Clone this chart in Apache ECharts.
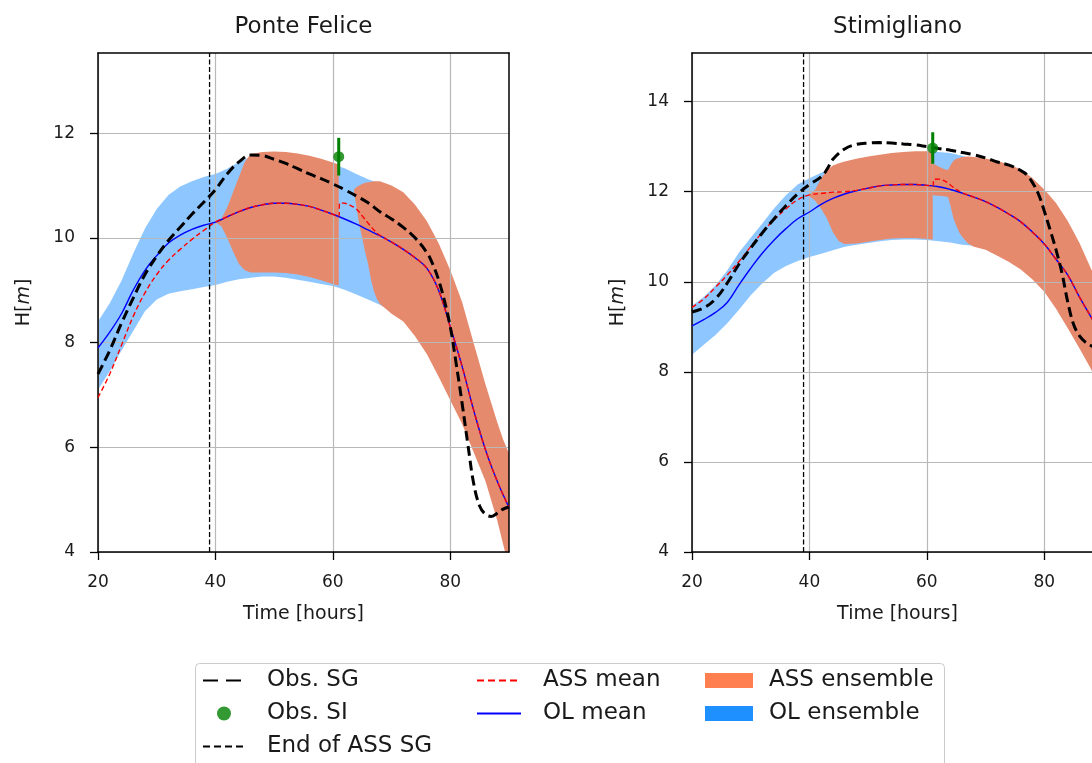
<!DOCTYPE html>
<html>
<head>
<meta charset="utf-8">
<title>Water level – Ponte Felice and Stimigliano</title>
<script src="https://cdn.jsdelivr.net/npm/echarts@6/dist/echarts.min.js"></script>
<style>
  html, body { margin: 0; padding: 0; background: #ffffff; }
  #chart { width: 1092px; height: 763px; }
</style>
</head>
<body>
<div id="chart"></div>
<script>
// ---------------- Ponte Felice ----------------
const pfTime = [20,22,24,26,28,30,32,34,36,38,40,42,44,46,48,50,52,54,56,58,60,62,64,66,68,70,72,74,76,78,80,82,84,86,88,90];
const pfOlMean = [7.9,8.2,8.55,9.0,9.38,9.66,9.9,10.05,10.16,10.24,10.3,10.4,10.5,10.58,10.63,10.66,10.66,10.64,10.6,10.53,10.45,10.36,10.26,10.15,10.04,9.92,9.78,9.62,9.42,9.0,8.3,7.55,6.7,5.95,5.35,4.85];
const pfOlHigh = [8.4,8.75,9.18,9.7,10.18,10.55,10.82,10.98,11.08,11.16,11.22,11.32,11.45,11.55,11.58,11.58,11.55,11.52,11.48,11.44,11.4,11.33,11.22,11.12,11.04,10.96,10.8,10.58,10.25,9.82,9.25,8.65,7.85,7.05,6.35,5.75];
const pfOlLow = [7.1,7.45,7.85,8.22,8.6,8.82,8.93,8.98,9.02,9.06,9.1,9.16,9.21,9.24,9.26,9.26,9.24,9.2,9.16,9.12,9.08,9.01,8.92,8.82,8.72,8.6,8.45,8.2,7.9,7.5,7.05,6.55,6.05,5.5,4.85,4.3];

const pfObsTime = [20,22,24,26,28,30,32,34,36,38,40,42,44,46,48,50,52,54,56,58,60,62,64,66,68,70,72,74,76,77,78,79,80,81,82,83,84,85,86,87,88,89,90];
const pfObsSG = [7.4,7.85,8.37,8.85,9.3,9.65,9.95,10.2,10.45,10.68,10.92,11.22,11.45,11.58,11.57,11.5,11.42,11.32,11.22,11.13,11.03,10.92,10.8,10.67,10.5,10.36,10.2,10.0,9.72,9.5,9.2,8.8,8.3,7.6,6.85,6.05,5.3,4.88,4.72,4.68,4.74,4.82,4.86];

const pfAssTime = [20,22,24,26,28,30,32,34,36,38,40,42,44,46,48,50,52,54,56,58,60,61,61.2,62,63,64,65,66,67,68,70,72,74,76,78,80,82,84,86,88,90];
const pfAssMean = [6.95,7.4,7.95,8.5,8.95,9.3,9.57,9.78,9.97,10.14,10.3,10.4,10.5,10.58,10.63,10.66,10.66,10.64,10.6,10.53,10.45,10.41,10.67,10.66,10.62,10.55,10.42,10.28,10.15,10.05,9.92,9.78,9.62,9.42,9.0,8.3,7.55,6.7,5.95,5.35,4.85];

const pfAss1Time = [40,41,42,43,44,45,46,48,50,52,54,56,58,60,61];
const pfAss1High = [10.3,10.36,10.58,10.87,11.16,11.45,11.6,11.64,11.65,11.64,11.61,11.57,11.51,11.44,11.4];
const pfAss1Low = [10.3,10.22,10.0,9.74,9.5,9.38,9.34,9.34,9.34,9.33,9.3,9.25,9.19,9.12,9.09];

const pfAss2Time = [63.6,64,64.5,65,65.5,66,66.5,67,67.5,68,70,72,74,76,78,80,82,84,86,88,89,90];
const pfAss2High = [10.92,10.97,11.0,11.03,11.05,11.06,11.07,11.08,11.08,11.08,11.0,10.87,10.63,10.32,9.9,9.38,8.78,7.98,7.2,6.48,6.15,5.88];
const pfAss2Low = [10.88,10.6,10.25,10.0,9.73,9.5,9.2,8.98,8.83,8.74,8.55,8.4,8.12,7.78,7.35,6.9,6.45,5.9,5.35,4.6,4.15,3.7];

const pfSiTime = [61];
const pfSiLevel = [11.55];
const pfSiErr = [0.36];

// ---------------- Stimigliano ----------------
const stTime = [20,22,24,26,28,30,32,34,36,38,40,42,44,46,48,50,52,54,56,58,60,62,64,66,68,70,72,74,76,78,80,82,84,86,88,90];
const stOlMean = [9.02,9.16,9.32,9.54,9.93,10.3,10.64,10.93,11.18,11.4,11.55,11.72,11.85,11.95,12.02,12.08,12.13,12.15,12.16,12.16,12.14,12.11,12.05,11.97,11.88,11.78,11.65,11.5,11.33,11.1,10.84,10.5,10.15,9.66,9.21,8.75];
const stOlHigh = [9.47,9.66,9.92,10.25,10.65,10.98,11.3,11.63,11.92,12.16,12.3,12.42,12.52,12.6,12.66,12.72,12.77,12.8,12.83,12.86,12.88,12.88,12.86,12.8,12.72,12.64,12.54,12.42,12.25,12.0,11.6,11.2,10.8,10.3,9.8,9.3];
const stOlLow = [8.38,8.6,8.82,9.08,9.38,9.7,9.97,10.2,10.35,10.46,10.55,10.62,10.7,10.78,10.82,10.86,10.9,10.93,10.94,10.94,10.93,10.9,10.87,10.82,10.8,10.74,10.62,10.48,10.32,10.12,9.88,9.5,9.08,8.62,8.15,7.7];

const stObsTime = [20,22,24,26,28,30,32,34,36,38,40,42,43,44,46,48,50,52,54,56,58,60,62,64,66,68,70,72,74,76,77,78,79,80,81,82,83,84,85,86,87,88,89,90];
const stObsSG = [9.33,9.42,9.62,9.97,10.39,10.75,11.09,11.4,11.69,11.95,12.16,12.33,12.5,12.72,12.95,13.05,13.08,13.09,13.08,13.06,13.04,13.0,12.96,12.92,12.87,12.82,12.75,12.66,12.59,12.47,12.38,12.2,11.95,11.57,11.15,10.71,10.2,9.55,9.05,8.8,8.66,8.58,8.52,8.5];

const stAssTime = [20,22,24,26,28,30,32,34,36,38,40,42,44,46,48,50,52,54,56,58,60,61,61.2,62,63,64,65,66,68,70,72,74,76,78,80,82,84,86,88,90];
const stAssMean = [9.43,9.62,9.88,10.15,10.45,10.78,11.1,11.38,11.62,11.82,11.93,11.96,11.99,12.0,12.03,12.08,12.13,12.15,12.16,12.16,12.14,12.13,12.27,12.28,12.24,12.15,12.05,11.98,11.88,11.78,11.65,11.5,11.33,11.1,10.84,10.5,10.15,9.66,9.21,8.75];

const stAss1Time = [40,41,42,43,44,45,46,48,50,52,54,56,58,60,61];
const stAss1High = [11.93,12.05,12.3,12.48,12.58,12.63,12.67,12.73,12.78,12.82,12.86,12.88,12.9,12.9,12.89];
const stAss1Low = [11.9,11.8,11.62,11.4,11.1,10.9,10.84,10.85,10.89,10.93,10.96,10.97,10.97,10.95,10.94];

const stAss2Time = [61,62,63,63.6,64,64.5,65,65.5,66,67,68,70,72,74,76,78,80,82,84,86,88,90];
const stAss2High = [12.63,12.56,12.5,12.48,12.58,12.68,12.73,12.75,12.77,12.78,12.77,12.74,12.69,12.6,12.5,12.3,12.05,11.75,11.35,10.86,10.28,9.7];
const stAss2Low = [11.92,11.91,11.9,11.88,11.7,11.42,11.25,11.1,11.0,10.85,10.78,10.71,10.58,10.44,10.27,10.05,9.78,9.4,8.97,8.52,8.05,7.55];

const stSiTime = [61];
const stSiLevel = [12.97];
const stSiErr = [0.35];

// ---------------- shared axis settings ----------------
const stationNames = ['Ponte Felice', 'Stimigliano'];
const endOfAssTime = [39, 39];
const timeRange = [20, 90];
const timeTicks = [20, 40, 60, 80];
const levelRange = [[4, 13.53], [4, 15.08]];
const levelTicks = [[4, 6, 8, 10, 12], [4, 6, 8, 10, 12, 14]];

const FONT = '"DejaVu Sans", "Liberation Sans", sans-serif';
const INK = '#1a1a1a';
const COL = {
  obs: '#000000', si: '#008000', ass: '#ff0000', ol: '#0000ff',
  assFill: '#e68a6e', olFill: 'rgba(30,144,255,0.5)',
  assKey: '#ff7f50', olKey: '#1e90ff', grid: '#b8b8b8'
};

function pairs(t, v) { return t.map((x, i) => [x, v[i]]); }

// filled band between two boundary curves, clipped to the plot area
function band(name, g, t, lo, hi, fill, key) {
  return {
    type: 'custom', name, xAxisIndex: g, yAxisIndex: g, z: 0, silent: true,
    itemStyle: { color: key },
    data: [[t[0], hi[0]]],
    renderItem(params, api) {
      const pts = [];
      for (let i = 0; i < t.length; i++) pts.push(api.coord([t[i], hi[i]]));
      for (let i = t.length - 1; i >= 0; i--) pts.push(api.coord([t[i], lo[i]]));
      const cs = params.coordSys;
      return {
        type: 'polygon', shape: { points: pts },
        style: { fill: fill, stroke: null },
        clipPath: { type: 'rect', shape: { x: cs.x, y: cs.y, width: cs.width, height: cs.height } }
      };
    }
  };
}

function curve(name, g, t, v, color, width, type, z, smooth) {
  return {
    type: 'line', name, xAxisIndex: g, yAxisIndex: g, data: pairs(t, v),
    symbol: 'none', showSymbol: false, smooth: smooth,
    z, silent: true, lineStyle: { color, width, type }, itemStyle: { color },
    emphasis: { disabled: true }
  };
}

function errorBars(g, t, v, e) {
  return {
    type: 'custom', name: 'Obs. SI', xAxisIndex: g, yAxisIndex: g, z: 5, silent: true,
    itemStyle: { color: COL.si },
    data: t.map((x, i) => [x, v[i], e[i]]),
    encode: { x: 0, y: 1 },
    renderItem(params, api) {
      const a = api.coord([api.value(0), api.value(1) + api.value(2)]);
      const b = api.coord([api.value(0), api.value(1) - api.value(2)]);
      return { type: 'line', shape: { x1: a[0], y1: a[1], x2: b[0], y2: b[1] }, style: { stroke: COL.si, lineWidth: 3 } };
    }
  };
}

function stationSeries(g, d) {
  return [
    band('OL ensemble', g, d.time, d.olLow, d.olHigh, COL.olFill, COL.olKey),
    band('ASS ensemble', g, d.ass1Time, d.ass1Low, d.ass1High, COL.assFill, COL.assKey),
    band('ASS ensemble', g, d.ass2Time, d.ass2Low, d.ass2High, COL.assFill, COL.assKey),
    curve('OL mean', g, d.time, d.olMean, COL.ol, 1.4, 'solid', 2, 0.4),
    curve('ASS mean', g, d.assTime, d.assMean, COL.ass, 1.4, [5, 3], 3, 0.4),
    curve('End of ASS SG', g, endOfAssTime, levelRange[g], COL.obs, 1.3, [5, 2.5], 3, false),
    curve('Obs. SG', g, d.obsTime, d.obsSG, COL.obs, 3, [10, 5], 4, 0.4),
    {
      type: 'scatter', name: 'Obs. SI', xAxisIndex: g, yAxisIndex: g, z: 6, silent: true,
      data: pairs(d.siTime, d.siLevel), symbol: 'circle', symbolSize: 11,
      itemStyle: { color: COL.si }
    },
    errorBars(g, d.siTime, d.siLevel, d.siErr)
  ];
}

const axisLine = { show: true, onZero: false, lineStyle: { color: '#000', width: 1.5 } };
const tickStyle = { color: '#000', width: 1.3 };
const labelStyle = { color: INK, fontFamily: FONT, fontSize: 17 };

function xAxes(g) {
  return [{
    gridIndex: g, type: 'value', position: 'bottom', min: timeRange[0], max: timeRange[1], interval: 20, z: 1,
    axisLine, axisTick: { show: true, inside: false, length: 8, lineStyle: tickStyle, customValues: timeTicks },
    axisLabel: Object.assign({ margin: 22, customValues: timeTicks }, labelStyle),
    splitLine: { show: true, lineStyle: { color: COL.grid, width: 1.2 } },
    name: 'Time [hours]', nameLocation: 'middle', nameGap: 53,
    nameTextStyle: { color: INK, fontFamily: FONT, fontSize: 19 }
  }, {
    gridIndex: g, type: 'value', position: 'top', min: timeRange[0], max: timeRange[1], z: 1,
    axisLine, axisTick: { show: false }, axisLabel: { show: false }, splitLine: { show: false }
  }];
}

function yAxes(g) {
  return [{
    gridIndex: g, type: 'value', position: 'left', min: levelRange[g][0], max: levelRange[g][1], interval: 2, z: 1,
    axisLine, axisTick: { show: true, inside: false, length: 8, lineStyle: tickStyle, customValues: levelTicks[g] },
    axisLabel: Object.assign({ margin: 23, customValues: levelTicks[g] }, labelStyle),
    splitLine: { show: true, lineStyle: { color: COL.grid, width: 1.2 } },
    name: '{a|H[}{b|m}{a|]}', nameLocation: 'middle', nameRotate: 90, nameGap: 64,
    nameTextStyle: {
      rich: {
        a: { color: INK, fontFamily: FONT, fontSize: 19 },
        b: { color: INK, fontFamily: FONT, fontSize: 19, fontStyle: 'italic' }
      }
    }
  }, {
    gridIndex: g, type: 'value', position: 'right', min: levelRange[g][0], max: levelRange[g][1], z: 1,
    axisLine, axisTick: { show: false }, axisLabel: { show: false }, splitLine: { show: false }
  }];
}

const pf = {
  time: pfTime, olMean: pfOlMean, olHigh: pfOlHigh, olLow: pfOlLow,
  obsTime: pfObsTime, obsSG: pfObsSG, assTime: pfAssTime, assMean: pfAssMean,
  ass1Time: pfAss1Time, ass1High: pfAss1High, ass1Low: pfAss1Low,
  ass2Time: pfAss2Time, ass2High: pfAss2High, ass2Low: pfAss2Low,
  siTime: pfSiTime, siLevel: pfSiLevel, siErr: pfSiErr
};
const st = {
  time: stTime, olMean: stOlMean, olHigh: stOlHigh, olLow: stOlLow,
  obsTime: stObsTime, obsSG: stObsSG, assTime: stAssTime, assMean: stAssMean,
  ass1Time: stAss1Time, ass1High: stAss1High, ass1Low: stAss1Low,
  ass2Time: stAss2Time, ass2High: stAss2High, ass2Low: stAss2Low,
  siTime: stSiTime, siLevel: stSiLevel, siErr: stSiErr
};

const xa = xAxes(0).concat(xAxes(1));
const ya = yAxes(0).concat(yAxes(1));
// bottom/left axes first so series index 0/1 refer to them
const xAxis = [xa[0], xa[2], xa[1], xa[3]];
const yAxis = [ya[0], ya[2], ya[1], ya[3]];

// line keys show only the stroke (no marker), with a key-sized dash pattern
const lineKey = (name, dash) => ({
  name,
  itemStyle: { opacity: 0, color: 'rgba(0,0,0,0)', borderWidth: 0 },
  lineStyle: dash ? { type: dash } : {}
});
const legendText = pad => ({ color: INK, fontFamily: FONT, fontSize: 23, lineHeight: 23, padding: [0, 0, 0, pad] });
const legendBase = { orient: 'vertical', top: 669, padding: 0, itemGap: 10, selectedMode: false };

const option = {
  animation: false,
  backgroundColor: '#ffffff',
  textStyle: { fontFamily: FONT },
  grid: [
    { left: 98, top: 53, width: 411, height: 499, containLabel: false, outerBoundsMode: 'none' },
    { left: 692, top: 53, width: 411, height: 499, containLabel: false, outerBoundsMode: 'none' }
  ],
  xAxis, yAxis,
  legend: [
    Object.assign({ left: 202, itemWidth: 42, itemHeight: 14, textStyle: legendText(17),
      data: [lineKey('Obs. SG', [15, 8]), 'Obs. SI', lineKey('End of ASS SG', [7, 4])] }, legendBase),
    Object.assign({ left: 476, itemWidth: 44, itemHeight: 14, textStyle: legendText(17),
      data: [lineKey('ASS mean', [7, 4]), lineKey('OL mean')] }, legendBase),
    Object.assign({ left: 705, itemWidth: 48, itemHeight: 15, textStyle: legendText(11),
      data: [{ name: 'ASS ensemble', icon: 'rect' }, { name: 'OL ensemble', icon: 'rect' }] }, legendBase)
  ],
  graphic: [
    { type: 'text', x: 303.5, y: 27, style: { text: stationNames[0], font: '23px ' + FONT, fill: INK, textAlign: 'center', textVerticalAlign: 'middle' } },
    { type: 'text', x: 897.5, y: 27, style: { text: stationNames[1], font: '23px ' + FONT, fill: INK, textAlign: 'center', textVerticalAlign: 'middle' } },
    { type: 'rect', z: 0, shape: { x: 195.5, y: 663.5, width: 749, height: 130, r: 4 }, style: { fill: '#ffffff', stroke: '#cccccc', lineWidth: 1 } }
  ],
  series: stationSeries(0, pf).concat(stationSeries(1, st))
};

const chart = echarts.init(document.getElementById('chart'), null, { renderer: 'canvas' });
chart.setOption(option);
</script>
</body>
</html>
